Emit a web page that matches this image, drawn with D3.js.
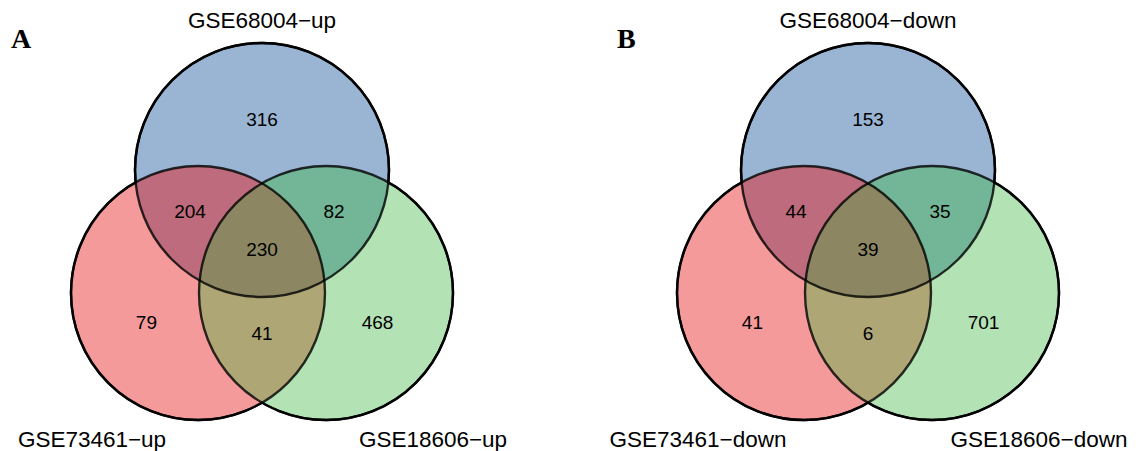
<!DOCTYPE html>
<html>
<head>
	<meta charset="utf-8" />
	<script src="https://d3js.org/d3.v7.min.js"></script>
	<style>
		body { margin: 0; background: #fff; }
		svg { display: block; }
		.setlabel { font-family: "Liberation Sans", Arial, sans-serif; font-size: 22.5px; fill: #000; }
		.count { font-family: "Liberation Sans", Arial, sans-serif; font-size: 19px; fill: #000; }
		.panel { font-family: "Liberation Serif", "Times New Roman", serif; font-size: 28px; font-weight: bold; fill: #000; }
	</style>
</head>
<body>
	<div id="chart"></div>
	<script>
		// region order: blue only, red&blue, blue&green, all three, red only, red&green, green only
		var regions = ["blueOnly", "redBlue", "blueGreen", "all", "redOnly", "redGreen", "greenOnly"];

		var panelLetters = ["A", "B"];
		var setNamesA = ["GSE68004\u2212up", "GSE73461\u2212up", "GSE18606\u2212up"];
		var setNamesB = ["GSE68004\u2212down", "GSE73461\u2212down", "GSE18606\u2212down"];
		var countsA = [316, 204, 82, 230, 79, 41, 468];
		var countsB = [153, 44, 35, 39, 41, 6, 701];

		var width = 1144, height = 451;

		// colours of each region as they appear in the figure
		var colBlue = "#9ab5d3", colRed = "#f59a9a", colGreen = "#b3e2b5";
		var colRedBlue = "#bd6b7d", colBlueGreen = "#73b597", colRedGreen = "#afa676", colAll = "#8c8762";

		// circle centres in units of the radius (blue on top, red left, green right)
		var circles = [
			{ id: "blue", ux: 0, uy: -0.969 },
			{ id: "red", ux: -0.504, uy: 0 },
			{ id: "green", ux: 0.504, uy: 0 }
		];

		// where each count sits, same units
		var countPos = {
			blueOnly: [0, -1.37], redBlue: [-0.567, -0.646], blueGreen: [0.567, -0.646],
			all: [0, -0.346], redOnly: [-0.91, 0.228], redGreen: [0, 0.315], greenOnly: [0.91, 0.228]
		};

		var svg = d3.select("#chart").append("svg")
			.attr("width", width)
			.attr("height", height);

		var defs = svg.append("defs");

		function drawPanel(key, cx, letter, names, counts) {
			var r = 127, cy = 293;
			var x = d3.scaleLinear().domain([-1, 1]).range([cx - r, cx + r]);
			var y = d3.scaleLinear().domain([-1, 1]).range([cy - r, cy + r]);

			var g = svg.append("g");

			// one clip path per circle
			circles.forEach(function (c) {
				defs.append("clipPath").attr("id", key + "clip-" + c.id)
					.append("circle").attr("cx", x(c.ux)).attr("cy", y(c.uy)).attr("r", r);
			});

			function circ(sel, id) {
				var c = circles.filter(function (d) { return d.id == id; })[0];
				return sel.append("circle").attr("cx", x(c.ux)).attr("cy", y(c.uy)).attr("r", r);
			}

			// base fills
			circ(g, "red").attr("fill", colRed);
			circ(g, "green").attr("fill", colGreen);
			circ(g, "blue").attr("fill", colBlue);

			// pairwise overlaps
			circ(g, "red").attr("fill", colRedBlue).attr("clip-path", "url(#" + key + "clip-blue)");
			circ(g, "green").attr("fill", colBlueGreen).attr("clip-path", "url(#" + key + "clip-blue)");
			circ(g, "green").attr("fill", colRedGreen).attr("clip-path", "url(#" + key + "clip-red)");

			// triple overlap
			var gAll = g.append("g").attr("clip-path", "url(#" + key + "clip-red)");
			circ(gAll, "green").attr("fill", colAll).attr("clip-path", "url(#" + key + "clip-blue)");

			// outlines: tinted inside other circles, solid black outside
			circles.forEach(function (c) {
				var others = circles.filter(function (d) { return d.id != c.id; });
				var m = defs.append("mask").attr("id", key + "mask-" + c.id);
				m.append("rect").attr("width", width).attr("height", height).attr("fill", "#fff");
				others.forEach(function (o) {
					m.append("circle").attr("cx", x(o.ux)).attr("cy", y(o.uy)).attr("r", r - 0.5).attr("fill", "#000");
				});
				circ(g, c.id).attr("fill", "none").attr("stroke", "#000")
					.attr("stroke-opacity", 0.8).attr("stroke-width", 2.4);
				circ(g, c.id).attr("fill", "none").attr("stroke", "#000")
					.attr("stroke-width", 2.4).attr("mask", "url(#" + key + "mask-" + c.id + ")");
			});

			// counts
			g.selectAll(".count")
				.data(regions)
				.enter().append("text")
				.attr("class", "count")
				.attr("x", function (d) { return x(countPos[d][0]); })
				.attr("y", function (d) { return y(countPos[d][1]); })
				.attr("dy", "0.35em")
				.attr("text-anchor", "middle")
				.text(function (d, i) { return counts[i]; });

			// set names
			g.append("text").attr("class", "setlabel").attr("x", cx).attr("y", 28)
				.attr("text-anchor", "middle").text(names[0]);
			g.append("text").attr("class", "setlabel").attr("x", cx - 170).attr("y", 447)
				.attr("text-anchor", "middle").text(names[1]);
			g.append("text").attr("class", "setlabel").attr("x", cx + 171).attr("y", 447)
				.attr("text-anchor", "middle").text(names[2]);

			// panel letter
			g.append("text").attr("class", "panel").attr("x", cx - 251).attr("y", 48).text(letter);
		}

		drawPanel("a", 262, panelLetters[0], setNamesA, countsA);
		drawPanel("b", 868, panelLetters[1], setNamesB, countsB);
	</script>
</body>
</html>
